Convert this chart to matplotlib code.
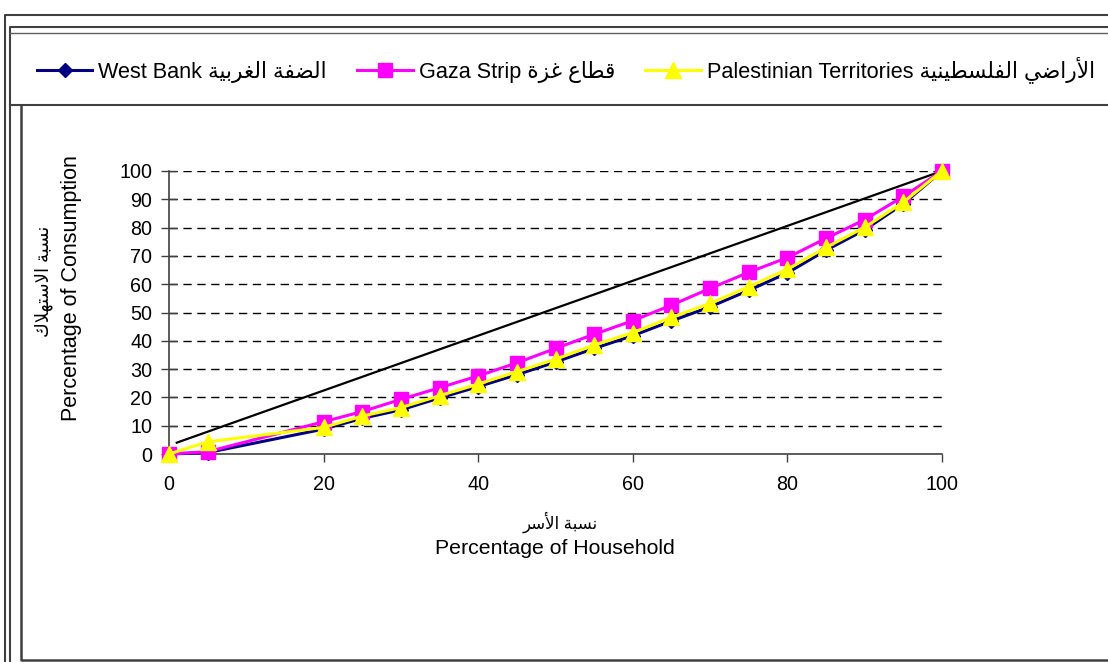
import matplotlib
matplotlib.use("Agg")
import matplotlib.pyplot as plt
from matplotlib.lines import Line2D

# ---------------- data ----------------
household_pct = [0, 5, 20, 25, 30, 35, 40, 45, 50, 55, 60, 65, 70, 75, 80, 85, 90, 95, 100]
west_bank = [0, 0.5, 8.8, 12.6, 15.6, 19.8, 23.8, 28.0, 32.5, 37.3, 41.8, 47.0, 52.0, 57.8, 64.0, 72.0, 79.2, 88.4, 100]
gaza_strip = [0, 0.8, 11.4, 15.0, 19.3, 23.4, 27.6, 32.2, 37.3, 42.3, 47.1, 52.6, 58.5, 64.2, 69.4, 76.2, 82.8, 91.0, 100]
pal_territories = [0, 4.3, 9.4, 13.4, 16.4, 20.6, 24.7, 29.1, 33.5, 38.5, 42.9, 48.3, 53.2, 59.1, 65.3, 73.0, 80.1, 89.0, 100]
equality_x = [1, 100]
equality_y = [4, 100]
x_ticks = [0, 20, 40, 60, 80, 100]
y_ticks = [0, 10, 20, 30, 40, 50, 60, 70, 80, 90, 100]

# ---------------- minimal Arabic shaping (presentation forms, visual order) ----------------
ARABIC_FORMS = {
    'ا': (0xFE8D, 2), 'أ': (0xFE83, 2), 'ة': (0xFE93, 2), 'ر': (0xFEAD, 2), 'ز': (0xFEAF, 2),
    'ب': (0xFE8F, 4), 'ت': (0xFE95, 4), 'س': (0xFEB1, 4), 'ض': (0xFEBD, 4), 'ط': (0xFEC1, 4),
    'ع': (0xFEC9, 4), 'غ': (0xFECD, 4), 'ف': (0xFED1, 4), 'ق': (0xFED5, 4), 'ك': (0xFED9, 4),
    'ل': (0xFEDD, 4), 'ن': (0xFEE5, 4), 'ه': (0xFEE9, 4), 'ي': (0xFEF1, 4),
}
LAM_ALEF = {'ا': (0xFEFB, 0xFEFC), 'أ': (0xFEF7, 0xFEF8)}


def shape(text):
    chars = list(text)
    units = []
    i = 0
    while i < len(chars):
        c = chars[i]
        if c == 'ل' and i + 1 < len(chars) and chars[i + 1] in LAM_ALEF:
            units.append(('LA', chars[i + 1]))
            i += 2
        else:
            units.append(('C', c))
            i += 1

    def joins_next(u):
        if u[0] == 'LA':
            return False
        f = ARABIC_FORMS.get(u[1])
        return f is not None and f[1] == 4

    def joins_prev(u):
        return u[0] == 'LA' or u[1] in ARABIC_FORMS

    res = []
    for k, u in enumerate(units):
        prev = units[k - 1] if k > 0 else None
        nxt = units[k + 1] if k + 1 < len(units) else None
        jp = prev is not None and joins_next(prev) and joins_prev(u)
        jn = nxt is not None and joins_next(u) and joins_prev(nxt)
        if u[0] == 'LA':
            iso, fin = LAM_ALEF[u[1]]
            res.append(chr(fin if jp else iso))
        elif u[1] in ARABIC_FORMS:
            base, n = ARABIC_FORMS[u[1]]
            if n == 2:
                res.append(chr(base + 1 if jp else base))
            else:
                if jp and jn:
                    res.append(chr(base + 3))
                elif jp:
                    res.append(chr(base + 1))
                elif jn:
                    res.append(chr(base + 2))
                else:
                    res.append(chr(base))
        else:
            res.append(u[1])
    return ''.join(reversed(res))


plt.rcParams['font.family'] = ['Liberation Sans', 'DejaVu Sans']

W, H = 1108, 662
fig = plt.figure(figsize=(W / 100, H / 100), dpi=100)
fig.patch.set_facecolor('white')


def fx(x):
    return x / W


def fy(y):
    return 1 - y / H


# frames
def fline(xs, ys, color='#404040', lw=1.5):
    fig.add_artist(Line2D([fx(v) for v in xs], [fy(v) for v in ys],
                          transform=fig.transFigure, color=color, lw=lw))


fline([5, 5, W], [H, 15, 15])
fline([10, 10, W], [H, 27, 27])
fline([10, W], [33, 33], color='#606060', lw=1.0)
fline([10, W], [105, 105])
fline([21, 21, W], [105, 660, 660], lw=1.8)

# axes
ax = fig.add_axes([fx(169), fy(454), fx(942 - 169), (454 - 171) / H])
ax.set_xlim(0, 100)
ax.set_ylim(0, 100)

ax.plot(equality_x, equality_y, color='black', lw=1.6, zorder=3)
l1, = ax.plot(household_pct, west_bank, color='#000080', lw=2.2, marker='D', markersize=7,
              clip_on=False, zorder=4)
l2, = ax.plot(household_pct, gaza_strip, color='#FF00FF', lw=2.2, marker='s', markersize=10,
              clip_on=False, zorder=5)
l3, = ax.plot(household_pct, pal_territories, color='#FFFF00', lw=2.2, marker='^', markersize=11,
              clip_on=False, zorder=6)

ax.set_xticks(x_ticks)
ax.set_yticks(y_ticks)
ax.tick_params(axis='both', labelsize=14.2, colors='black')
ax.tick_params(axis='y', direction='inout', length=12, width=1, pad=6, color='#404040')
ax.tick_params(axis='x', direction='out', length=6, width=1, pad=9, color='#404040')
for s in ['top', 'right']:
    ax.spines[s].set_visible(False)
for s in ['left', 'bottom']:
    ax.spines[s].set_color('#404040')
    ax.spines[s].set_linewidth(1.2)
ax.yaxis.grid(True, color='black', lw=1, linestyle=(0, (6, 4)))
ax.set_axisbelow(True)
for gl, v in zip(ax.yaxis.get_gridlines(), y_ticks):
    if v == 0:
        gl.set_visible(False)

# axis labels
fig.text(fx(560), fy(522), shape('نسبة الأسر'), ha='center', va='center', fontsize=12)
fig.text(fx(555), fy(548), 'Percentage of Household', ha='center', va='center', fontsize=15.3)
fig.text(fx(44), fy(281), shape('نسبة الاستهلاك'), ha='center', va='center', rotation=90, fontsize=13)
fig.text(fx(72), fy(288), 'Percentage of Consumption', ha='center', va='center', rotation=90,
         fontsize=15.5)

labels = ['West Bank ' + shape('الضفة الغربية'),
          'Gaza Strip ' + shape('قطاع غزة'),
          'Palestinian Territories ' + shape('الأراضي الفلسطينية')]
fig.legend([l1, l2, l3], labels, loc='center left', bbox_to_anchor=(fx(37), fy(70)),
           ncol=3, frameon=False, fontsize=15.6, handlelength=2.55, handletextpad=0.28,
           columnspacing=1.4, borderpad=0, borderaxespad=0)

fig.savefig('out.png', dpi=100, facecolor='white')
